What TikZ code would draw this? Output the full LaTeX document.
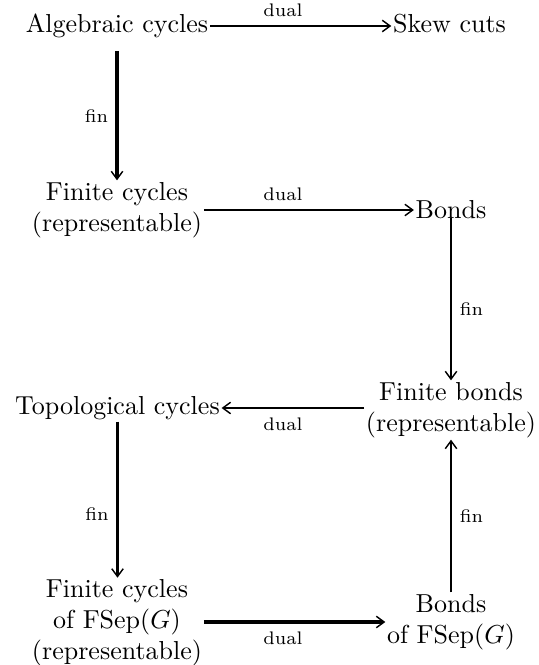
\documentclass[tikz,border=0pt]{standalone}
\usetikzlibrary{arrows.meta}
\begin{document}
\begin{tikzpicture}[x=0.3846pt,y=-0.3846pt,
  lbl/.style={font=\scriptsize, inner sep=0pt, anchor=base},
  obj/.style={inner sep=0.5pt, align=center},
  arr/.style={-{Straight Barb[length=3pt,width=4.4pt,line width=0.55pt]}, line width=0.77pt},
  thickarr/.style={arr, line width=1.27pt}]
\useasboundingbox (0,0) rectangle (538,665);
% objects
\node[obj] (alg) at (117,26) {Algebraic cycles};
\node[obj, anchor=base] (skew) at (449.5,32.5) {Skew cuts};
\node[obj] (fc) at (117,210) {Finite cycles\\(representable)};
\node[obj] (bonds) at (451,210) {Bonds};
\node[obj] (fb) at (451,410) {Finite bonds\\(representable)};
\node[obj] (topo) at (117.5,408) {Topological cycles};
\node[obj] (fcf) at (117,623) {Finite cycles\\of FSep$(G)$\\(representable)};
\node[obj] (bf) at (451,622) {Bonds\\of FSep$(G)$};
% labels
\node[lbl] (d1) at (283,17) {dual};
\node[lbl] (d2) at (283,201) {dual};
\node[lbl] (d3) at (283,430) {dual};
\node[lbl] (d4) at (283,644) {dual};
\node[lbl] (f1) at (96.5,123) {fin};
\node[lbl] (f2) at (471.5,315) {fin};
\node[lbl] (f3) at (97,520) {fin};
\node[lbl] (f4) at (471.5,522) {fin};
% connectors
\draw[arr] (alg.east) -- (alg.east -| skew.west);
\draw[arr] (fc.east |- bonds.west) -- (bonds.west);
\draw[arr] (fb.west |- topo.east) -- (topo.east);
\draw[thickarr] (fcf.east |- bf.west) -- (bf.west);
\draw[thickarr] ([yshift=-4.3pt]alg.south) -- (fc.north);
\draw[arr] ([yshift=1.2pt]bonds.south) -- (fb.north);
\draw[thickarr] (topo.south) -- (fcf.north -| topo.south);
\draw[arr] (bf.north) -- (fb.south);
\end{tikzpicture}
\end{document}
